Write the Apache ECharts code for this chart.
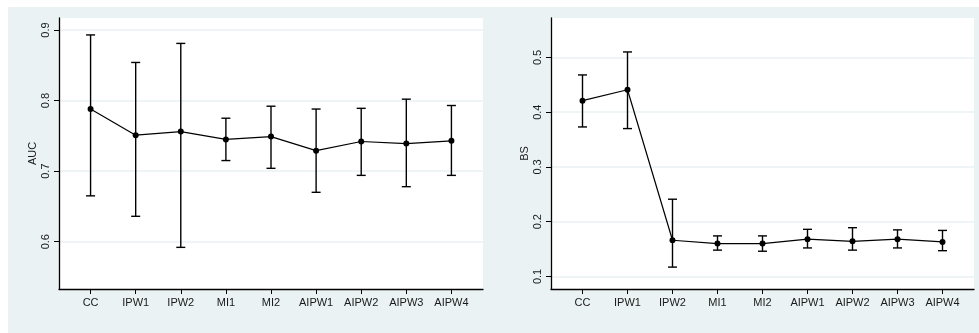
<!DOCTYPE html>
<html>
<head>
<meta charset="utf-8">
<script src="https://cdn.jsdelivr.net/npm/echarts@6/dist/echarts.min.js"></script>
<style>
html,body{margin:0;padding:0;background:#ffffff;}
#bg{position:absolute;left:8px;top:7px;width:971px;height:326px;background:#EAF2F3;}
#chart{position:absolute;left:0;top:0;width:979px;height:333px;}
</style>
</head>
<body>
<div id="bg"></div>
<div id="chart"></div>
<script>
const categories = ['CC','IPW1','IPW2','MI1','MI2','AIPW1','AIPW2','AIPW3','AIPW4'];
const aucEst   = [0.788,0.751,0.756,0.745,0.749,0.729,0.742,0.739,0.743];
const aucLower = [0.665,0.636,0.592,0.715,0.704,0.670,0.694,0.678,0.694];
const aucUpper = [0.893,0.854,0.881,0.775,0.792,0.788,0.789,0.802,0.793];
const bsEst    = [0.421,0.441,0.166,0.160,0.160,0.168,0.164,0.168,0.163];
const bsLower  = [0.373,0.370,0.117,0.148,0.146,0.152,0.148,0.152,0.147];
const bsUpper  = [0.468,0.510,0.241,0.174,0.174,0.186,0.189,0.185,0.184];
const aucTicks = [0.6,0.7,0.8,0.9];
const bsTicks  = [0.1,0.2,0.3,0.4,0.5];

const positions = categories.map((c,i)=>i+1);
const textColor = '#1a1a1a';
const fontFamily = 'Liberation Sans, Arial, sans-serif';

function xAxisCfg(gridIndex){
  return {
    type:'value', gridIndex, min:0.3, max:9.7,
    axisLine:{show:true,onZero:false,lineStyle:{color:'#000',width:1.3}},
    axisTick:{show:true,customValues:positions,length:5,lineStyle:{color:'#000',width:1}},
    axisLabel:{customValues:positions,margin:8,color:textColor,fontSize:11,fontFamily,
      formatter:v=>categories[Math.round(v)-1]||''},
    splitLine:{show:false}
  };
}
function yAxisCfg(gridIndex,name,min,max,ticks){
  return {
    type:'value', gridIndex, min, max, name,
    nameLocation:'middle', nameRotate:90, nameGap:21,
    nameTextStyle:{color:textColor,fontSize:11,fontFamily},
    axisLine:{show:true,onZero:false,lineStyle:{color:'#000',width:1.3}},
    axisTick:{show:true,customValues:ticks,length:5,lineStyle:{color:'#000',width:1}},
    axisLabel:{customValues:ticks,rotate:90,margin:8,color:textColor,fontSize:11,fontFamily,
      formatter:v=>String(Math.round(v*10)/10)},
    splitLine:{show:true,lineStyle:{color:'#EAF2F3',width:1.5}}
  };
}
function errBars(xi,yi,lower,upper){
  return {
    type:'custom', xAxisIndex:xi, yAxisIndex:yi, silent:true, z:3,
    data: positions.map((p,i)=>[p,lower[i],upper[i]]),
    renderItem:(params,api)=>{
      const lo = api.coord([api.value(0),api.value(1)]);
      const hi = api.coord([api.value(0),api.value(2)]);
      const hw = 4.5;
      const st = {stroke:'#000',lineWidth:1.4};
      return {type:'group',children:[
        {type:'line',shape:{x1:lo[0],y1:lo[1],x2:hi[0],y2:hi[1]},style:st},
        {type:'line',shape:{x1:lo[0]-hw,y1:lo[1],x2:lo[0]+hw,y2:lo[1]},style:st},
        {type:'line',shape:{x1:hi[0]-hw,y1:hi[1],x2:hi[0]+hw,y2:hi[1]},style:st}
      ]};
    }
  };
}
function lineSeries(xi,yi,est){
  return {
    type:'line', xAxisIndex:xi, yAxisIndex:yi, z:4,
    data: positions.map((p,i)=>[p,est[i]]),
    symbol:'circle', symbolSize:6,
    itemStyle:{color:'#000'},
    lineStyle:{color:'#000',width:1.2},
    animation:false
  };
}

const chart = echarts.init(document.getElementById('chart'),null,{renderer:'canvas'});
chart.setOption({
  animation:false,
  backgroundColor:'transparent',
  grid:[
    {left:59,top:18,width:424,height:271,backgroundColor:'#fff',show:true,borderWidth:0},
    {left:551,top:18,width:423,height:271,backgroundColor:'#fff',show:true,borderWidth:0}
  ],
  xAxis:[xAxisCfg(0),xAxisCfg(1)],
  yAxis:[yAxisCfg(0,'AUC',0.533,0.917,aucTicks),yAxisCfg(1,'BS',0.077,0.572,bsTicks)],
  series:[
    errBars(0,0,aucLower,aucUpper),
    lineSeries(0,0,aucEst),
    errBars(1,1,bsLower,bsUpper),
    lineSeries(1,1,bsEst)
  ]
});
</script>
</body>
</html>
